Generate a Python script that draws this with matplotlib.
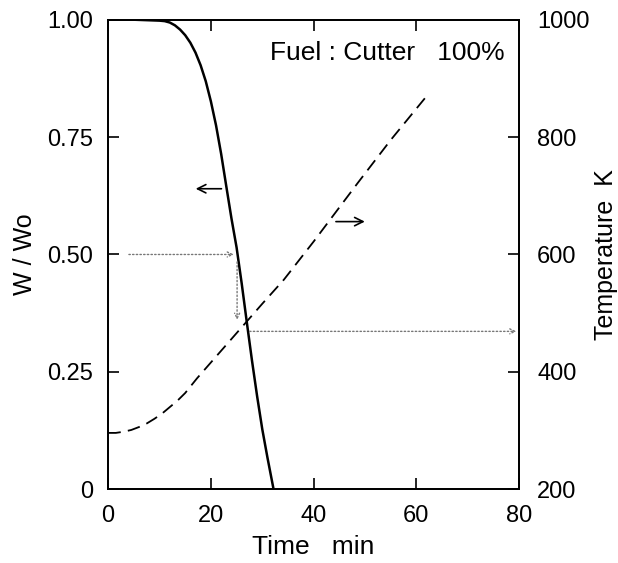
import matplotlib
matplotlib.use("Agg")
import matplotlib.pyplot as plt

plt.rcParams['font.family'] = ['Liberation Sans', 'DejaVu Sans']

# W/Wo curve (solid)
t_w = [0, 5, 10, 11, 12, 13, 14, 15, 16, 17, 18, 19, 20, 21, 22, 23, 24, 25,
       26, 27, 28, 29, 30, 31, 32.2]
w_w = [1.0, 1.0, 0.998, 0.997, 0.994, 0.988, 0.979, 0.967, 0.951, 0.93, 0.903,
       0.869, 0.826, 0.775, 0.714, 0.645, 0.577, 0.515, 0.438, 0.355, 0.274,
       0.198, 0.128, 0.068, 0.0]

# Temperature curve (dashed)
t_T = [0, 1.5, 3, 4.5, 6, 7.5, 9, 10.5, 12, 13.5, 15, 17.3, 20, 25.1, 30, 34.2, 40, 48.6, 55, 62.2]
T_T = [296, 296, 298, 301, 306, 312, 320, 329, 340, 351, 364, 389, 416, 467, 516, 557, 622, 722, 795, 872]

x_ticks = [0, 20, 40, 60, 80]
w_ticks = [0, 0.25, 0.5, 0.75, 1.0]
w_labels = ['0', '0.25', '0.50', '0.75', '1.00']
T_ticks = [200, 400, 600, 800, 1000]

fig = plt.figure(figsize=(6.18, 5.63), dpi=100)
ax = fig.add_axes([0.175, 0.131, 0.665, 0.834])
ax2 = ax.twinx()

ax.plot(t_w, w_w, color='black', lw=1.8)
ax2.plot(t_T, T_T, color='black', lw=1.3, dashes=(7, 4))

ax.set_xlim(0, 80)
ax.set_ylim(0, 1.0)
ax2.set_ylim(200, 1000)

ax.set_xticks(x_ticks)
ax.set_yticks(w_ticks)
ax.set_yticklabels(w_labels)
ax2.set_yticks(T_ticks)

ax.tick_params(axis='both', direction='in', length=8, width=1.2, labelsize=17)
ax.tick_params(axis='x', top=True, pad=11)
ax.tick_params(axis='y', pad=11)
ax2.tick_params(axis='y', direction='in', length=8, width=1.2, labelsize=17, pad=13)
for sp in ax.spines.values():
    sp.set_linewidth(1.3)
for sp in ax2.spines.values():
    sp.set_linewidth(1.3)

ax.set_xlabel('Time   min', fontsize=19, labelpad=6)
ax.set_ylabel('W / Wo', fontsize=18, labelpad=7)
ax2.set_ylabel('Temperature  K', fontsize=18, labelpad=3)

ax.text(0.965, 0.93, 'Fuel : Cutter   100%', transform=ax.transAxes,
        ha='right', va='center', fontsize=19)

# curve identification arrows
ax.annotate('', xy=(16.5, 0.64), xytext=(22.6, 0.64),
            arrowprops=dict(arrowstyle='->', color='black', lw=1.2, mutation_scale=15))
ax.annotate('', xy=(50.5, 0.57), xytext=(43.8, 0.57),
            arrowprops=dict(arrowstyle='->', color='black', lw=1.2, mutation_scale=15))

# dotted reading arrows
dot = dict(arrowstyle='->', color='#777777', lw=1.0, linestyle=':', mutation_scale=9)
ax.annotate('', xy=(25.0, 0.5), xytext=(3.5, 0.5), arrowprops=dot)
ax.annotate('', xy=(25.1, 0.355), xytext=(25.1, 0.49), arrowprops=dot)
ax2.annotate('', xy=(80, 469), xytext=(27.0, 469), arrowprops=dot)

fig.savefig('out.png', dpi=100)
